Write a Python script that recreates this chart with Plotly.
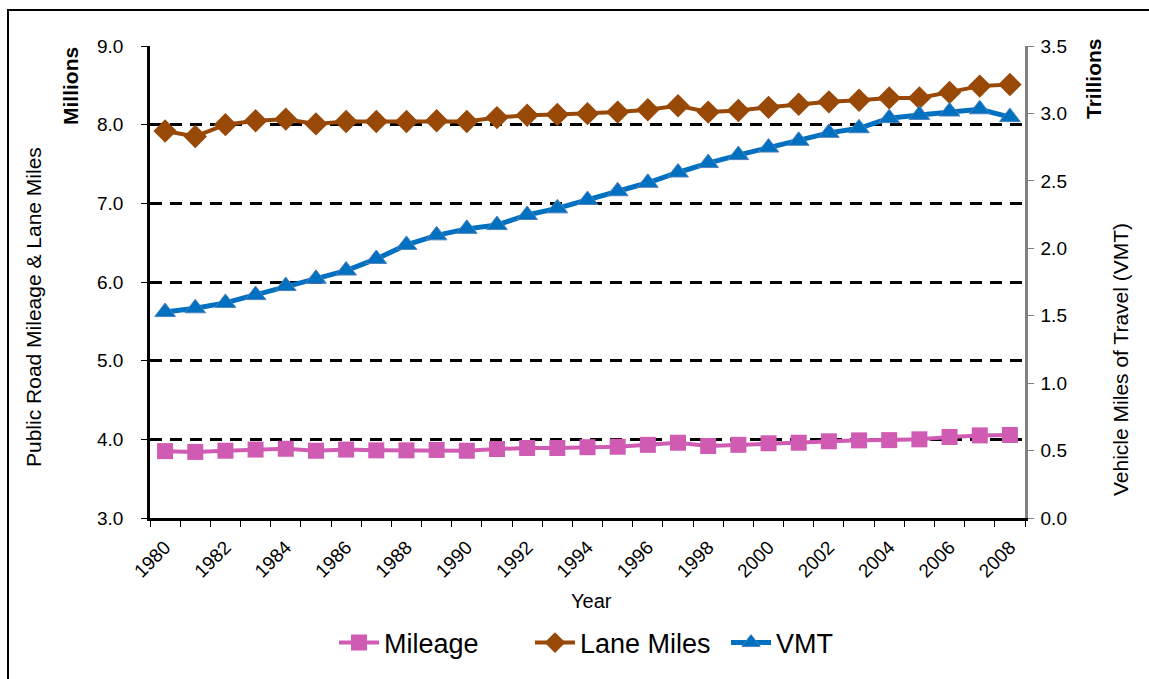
import plotly.graph_objects as go

years = list(range(1980, 2009))
mileage = [3.85, 3.84, 3.855, 3.87, 3.88, 3.855, 3.87, 3.86, 3.86, 3.865, 3.855, 3.877, 3.89, 3.89, 3.90,
           3.906, 3.93, 3.957, 3.915, 3.93, 3.95, 3.957, 3.975, 3.987, 3.99, 4.0, 4.03, 4.05, 4.055]
lane_miles = [7.92, 7.85, 8.00, 8.05, 8.07, 8.01, 8.04, 8.04, 8.04, 8.05, 8.04, 8.09, 8.12, 8.13, 8.14,
              8.16, 8.19, 8.24, 8.16, 8.18, 8.22, 8.26, 8.29, 8.31, 8.34, 8.34, 8.41, 8.49, 8.51]
vmt = [1.527, 1.555, 1.595, 1.653, 1.720, 1.774, 1.835, 1.921, 2.025, 2.096, 2.144, 2.172, 2.247, 2.296, 2.358,
       2.423, 2.486, 2.562, 2.632, 2.691, 2.747, 2.797, 2.856, 2.890, 2.965, 2.989, 3.014, 3.031, 2.973]
tick_years = list(range(1980, 2009, 2))
tick_labels = [str(y) for y in tick_years]

FONT = "Liberation Sans, Arial, sans-serif"
W, H = 1149, 679
L, R, T, B = 150, 1025, 46, 518

def px(x):
    return (x - L) / (R - L)

def py(y):
    return (B - y) / (B - T)

fig = go.Figure()
fig.add_trace(go.Scatter(x=years, y=mileage, name="Mileage", mode="lines+markers",
                         line=dict(color="#D05BB3", width=4),
                         marker=dict(symbol="square", size=16, color="#D05BB3")))
fig.add_trace(go.Scatter(x=years, y=lane_miles, name="Lane Miles", mode="lines+markers",
                         line=dict(color="#984807", width=4),
                         marker=dict(symbol="diamond", size=18, color="#984807")))
fig.add_trace(go.Scatter(x=years, y=vmt, name="VMT", mode="lines+markers", yaxis="y2",
                         line=dict(color="#0070C0", width=5),
                         marker=dict(symbol="triangle-up", size=18, color="#0070C0",
                                     line=dict(color="#4F81BD", width=1))))

fig.update_layout(
    width=W, height=H,
    margin=dict(l=L, r=W - R, t=T, b=H - B, pad=0),
    paper_bgcolor="white", plot_bgcolor="white",
    font=dict(family=FONT, color="black", size=19),
    showlegend=True,
    legend=dict(orientation="h", x=px(334), xanchor="left", y=py(643), yanchor="middle",
                font=dict(size=27, family=FONT), itemwidth=40, traceorder="normal",
                entrywidth=141, entrywidthmode="pixels"),
    xaxis=dict(range=[1979.5, 2008.5], tickvals=tick_years, ticktext=tick_labels, tickangle=-45,
               ticks="", showgrid=False, zeroline=False, showline=True, linecolor="black", linewidth=2.5,
               tickfont=dict(size=19), ticklabelstandoff=8,
               minor=dict(ticks="outside", tick0=1979.5, dtick=1, ticklen=6, tickcolor="black",
                          tickwidth=1, showgrid=False)),
    yaxis=dict(range=[3, 9], dtick=1, tickformat=".1f", ticks="outside", ticklen=6, tickcolor="black",
               showline=True, linecolor="black", linewidth=2.5, zeroline=False,
               showgrid=True, gridcolor="black", gridwidth=3, griddash="12px,8px",
               tickfont=dict(size=19), ticklabelstandoff=14),
    yaxis2=dict(range=[0, 3.5], dtick=0.5, tickformat=".1f", overlaying="y", side="right",
                ticks="outside", ticklen=6, tickcolor="#808080", showline=True, linecolor="#808080",
                linewidth=2.5, showgrid=False, zeroline=False, tickfont=dict(size=19),
                ticklabelstandoff=3),
)

ann = [
    dict(text="Millions", x=px(70), y=py(86), textangle=-90, font=dict(size=21, family=FONT), bold=True),
    dict(text="Trillions", x=px(1093), y=py(79), textangle=-90, font=dict(size=21, family=FONT), bold=True),
    dict(text="Public Road Mileage & Lane Miles", x=px(33), y=py(307), textangle=-90, font=dict(size=21, family=FONT)),
    dict(text="Vehicle Miles of Travel (VMT)", x=px(1120), y=py(360), textangle=-90, font=dict(size=21, family=FONT)),
    dict(text="Year", x=px(591), y=py(601), font=dict(size=20, family=FONT)),
]
for a in ann:
    bold = a.pop("bold", False)
    if bold:
        a["text"] = "<b>" + a["text"] + "</b>"
    fig.add_annotation(xref="paper", yref="paper", showarrow=False, xanchor="center", yanchor="middle", **a)

fig.add_shape(type="rect", xref="paper", yref="paper", x0=px(8), x1=px(1160), y0=py(690), y1=py(10),
              line=dict(color="black", width=2), layer="above")

fig.write_html("out.html", config={"displayModeBar": False},
               post_script="document.body.style.margin='0px';document.body.style.padding='0px';")
